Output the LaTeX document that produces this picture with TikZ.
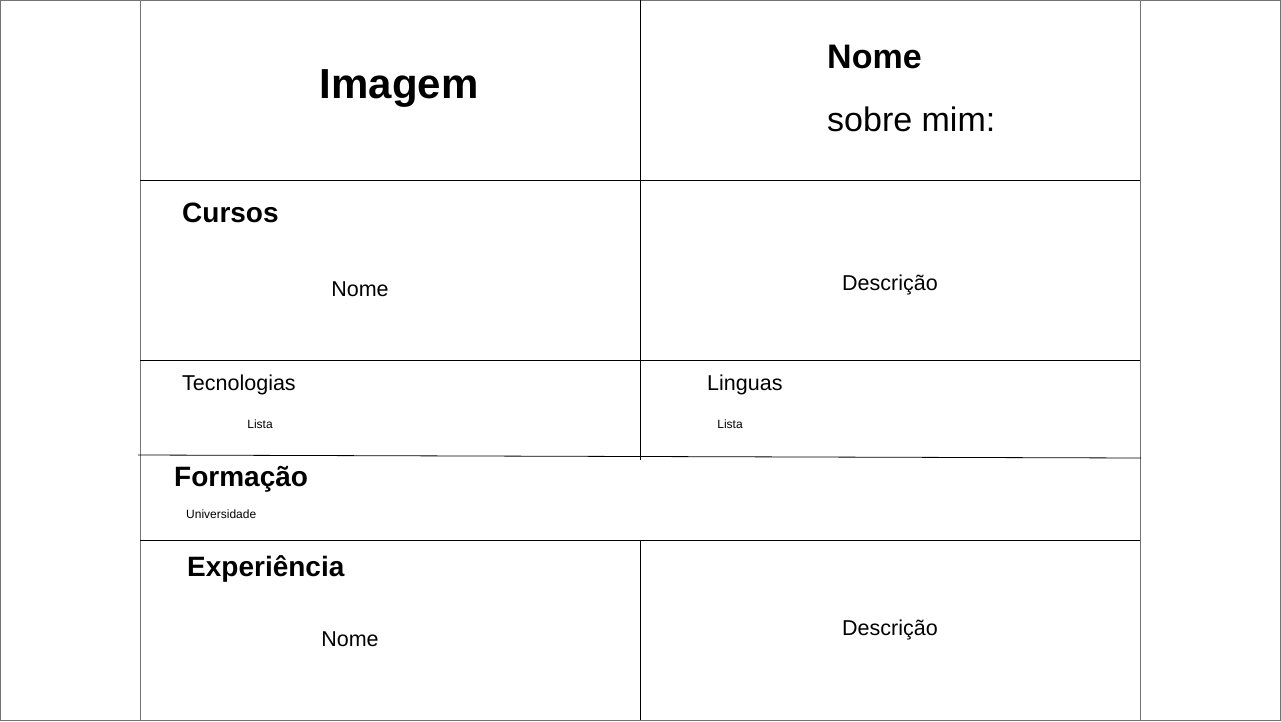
\documentclass[tikz,border=0pt]{standalone}
\usepackage{fontspec}
\setmainfont{Liberation Sans}
\usetikzlibrary{positioning}
\newcommand{\fsz}[1]{\fontsize{#1}{#1}\selectfont}
\begin{document}
\begin{tikzpicture}[x=1pt, y=-1pt]
        \tikzstyle{frame}=[draw=black!55, line width=1pt];
        \tikzstyle{rule}=[draw=black, line width=0.8pt];
        \tikzstyle{title}=[inner sep=0pt, font=\fsz{28}\bfseries];
        \tikzstyle{item}=[inner sep=0pt, font=\fsz{21.5}];
        \tikzstyle{small}=[inner sep=0pt, font=\fsz{12}];
        \useasboundingbox (0,0) rectangle (1281,722);
        % page and column
        \draw[frame] (0.5,0.5) rectangle (1280.5,720.5);
        \draw[frame] (140,0) -- (140,720);
        \draw[frame] (1140,0) -- (1140,720);
        % rows
        \draw[rule] (140,180) -- (1140,180);
        \draw[rule] (140,360) -- (1140,360);
        \draw[rule] (140,540) -- (1140,540);
        \draw[rule] (138,455) -- (1141,458);
        \draw[rule] (640,0) -- (640,460);
        \draw[rule] (640,540) -- (640,720);
        % header
        \node[inner sep=0pt, font=\fsz{42}\bfseries] (img) at (399,89) {Imagem};
        \node[inner sep=0pt, font=\fsz{34}\bfseries, anchor=west] (nome) at (827,57) {Nome};
        \node[inner sep=0pt, font=\fsz{34}, anchor=west] (sobre) at (827,119) {sobre mim:};
        % cursos
        \node[title, anchor=west] (cursos) at (182,213) {Cursos};
        \node[item] (cnome) at (360,289) {Nome};
        \node[item] (cdesc) at (890,285) {Descrição};
        % tecnologias / linguas
        \node[item, anchor=west] (tec) at (182,385) {Tecnologias};
        \node[small] (tlista) at (260,424) {Lista};
        \node[item, anchor=west] (ling) at (707,385) {Linguas};
        \node[small] (llista) at (730,424) {Lista};
        % formacao
        \node[title, anchor=west] (form) at (174,479) {Formação};
        \node[small, anchor=west] (univ) at (186,514) {Universidade};
        % experiencia
        \node[title, anchor=west] (exp) at (187,569) {Experiência};
        \node[item] (enome) at (350,639) {Nome};
        \node[item] (edesc) at (890,630) {Descrição};
\end{tikzpicture}
\end{document}
